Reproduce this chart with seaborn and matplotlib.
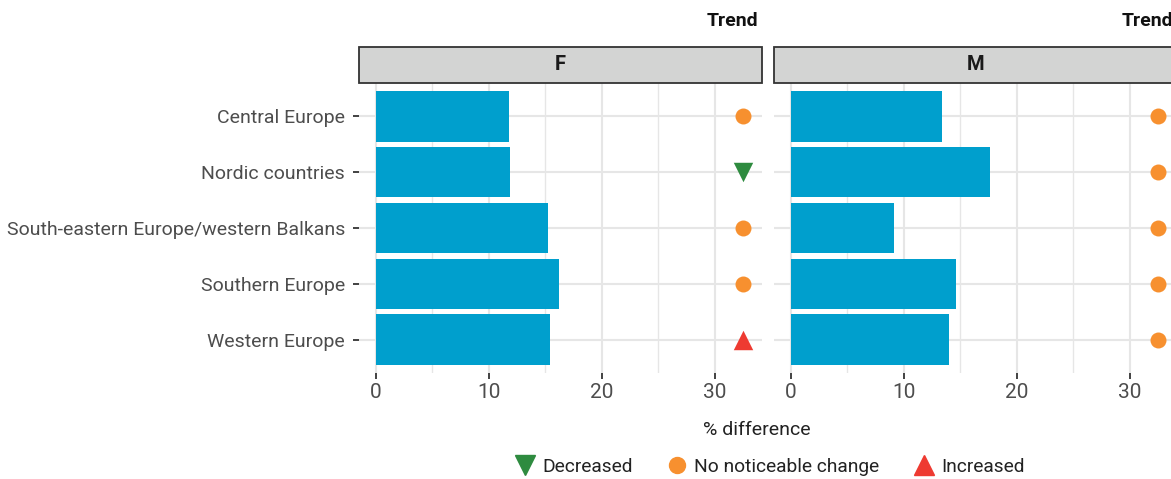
import numpy as np
import pandas as pd
import matplotlib
matplotlib.use("Agg")
import matplotlib.pyplot as plt
from matplotlib.patches import Rectangle
from matplotlib.lines import Line2D
from matplotlib.ticker import MultipleLocator
import seaborn as sns

# ---------------- data ----------------
regions = ["Central Europe", "Nordic countries",
           "South-eastern Europe/western Balkans", "Southern Europe", "Western Europe"]
f_values = [11.8, 11.9, 15.2, 16.2, 15.4]
m_values = [13.4, 17.6, 9.1, 14.6, 14.0]
f_trend = ["No noticeable change", "Decreased", "No noticeable change",
           "No noticeable change", "Increased"]
m_trend = ["No noticeable change"] * 5
panels = ["F", "M"]
x_ticks = [0, 10, 20, 30]
trend_levels = ["Decreased", "No noticeable change", "Increased"]

# ---------------- styling ----------------
sns.set_theme(style="white")
plt.rcParams["font.family"] = ["Roboto", "DejaVu Sans"]

BAR = "#009FCD"
GRID = "#E6E6E6"
TXT = "#4D4D4D"
trend_style = {
    "Decreased": dict(marker="v", color="#2E8B3F", size=14),
    "No noticeable change": dict(marker="o", color="#F7902F", size=11.5),
    "Increased": dict(marker="^", color="#EE3A31", size=14),
}
TREND_X = 32.5

df = pd.DataFrame({
    "region": regions * 2,
    "value": f_values + m_values,
    "trend": f_trend + m_trend,
    "sex": ["F"] * 5 + ["M"] * 5,
})
df["trend_x"] = TREND_X

W, H = 1171, 479
fig = plt.figure(figsize=(W / 100, H / 100), dpi=100)

panel_left = [359, 774]
panel_w = 403
top_px, bot_px = 83, 373

for sex, lp in zip(panels, panel_left):
    ax = fig.add_axes([lp / W, 1 - bot_px / H, panel_w / W, (bot_px - top_px) / H])
    sub = df[df["sex"] == sex]
    sns.barplot(data=sub, x="value", y="region", order=regions, orient="h",
                color=BAR, width=0.9, saturation=1, linewidth=0, ax=ax, zorder=2)
    for lvl in trend_levels:
        s = sub[sub["trend"] == lvl]
        if len(s) == 0:
            continue
        st = trend_style[lvl]
        sns.stripplot(data=s, x="trend_x", y="region", order=regions, orient="h",
                      jitter=False, marker=st["marker"], color=st["color"],
                      size=st["size"], linewidth=0, ax=ax, zorder=3)
    ax.set_xlim(-1.5, 34.2)
    ax.set_ylim(4.6, -0.6)
    ax.set_xticks(x_ticks)
    ax.xaxis.set_minor_locator(MultipleLocator(5))
    ax.set_axisbelow(True)
    ax.grid(True, which="major", axis="both", color=GRID, lw=1.5)
    ax.grid(True, which="minor", axis="x", color=GRID, lw=1.0)
    for sp in ax.spines.values():
        sp.set_visible(False)
    ax.set_xlabel("")
    ax.set_ylabel("")
    ax.tick_params(axis="x", which="major", length=4, width=1.3, color="#333333",
                   labelsize=15, labelcolor=TXT, pad=3, bottom=True)
    ax.tick_params(axis="x", which="minor", length=0)
    ax.tick_params(axis="y", length=4, width=1.3, color="#333333",
                   labelsize=14, labelcolor=TXT, pad=6, left=True)
    if sex == "M":
        ax.tick_params(axis="y", labelleft=False, length=0)
    # strip
    strip_h = 36 / (bot_px - top_px)
    ax.add_patch(Rectangle((0, 1), 1, strip_h, transform=ax.transAxes,
                           facecolor="#D3D4D3", edgecolor="#333333", lw=1.3,
                           clip_on=False, zorder=5))
    ax.text(0.5, 1 + strip_h / 2, sex, transform=ax.transAxes, ha="center",
            va="center", fontsize=14.5, fontweight="bold", color="#1A1A1A", zorder=6)
    ax.text((panel_w - 4) / panel_w, 1 + 62 / (bot_px - top_px), "Trend",
            transform=ax.transAxes, ha="right", va="center", fontsize=14,
            fontweight="bold", color="#111111")

fig.text(757 / W, 1 - 430 / H, "% difference", ha="center", va="center",
         fontsize=14, color="#222222")

handles = [Line2D([], [], ls="", marker=trend_style[l]["marker"],
                  color=trend_style[l]["color"], markersize=trend_style[l]["size"] * 1.0)
           for l in trend_levels]
leg = fig.legend(handles, trend_levels, loc="center", ncol=3,
                 bbox_to_anchor=(769 / W, 1 - 467 / H), frameon=False,
                 fontsize=13.8, handletextpad=0.3, columnspacing=1.7,
                 handlelength=1.2)
for t in leg.get_texts():
    t.set_color("#222222")

fig.savefig("out.png", dpi=100)
